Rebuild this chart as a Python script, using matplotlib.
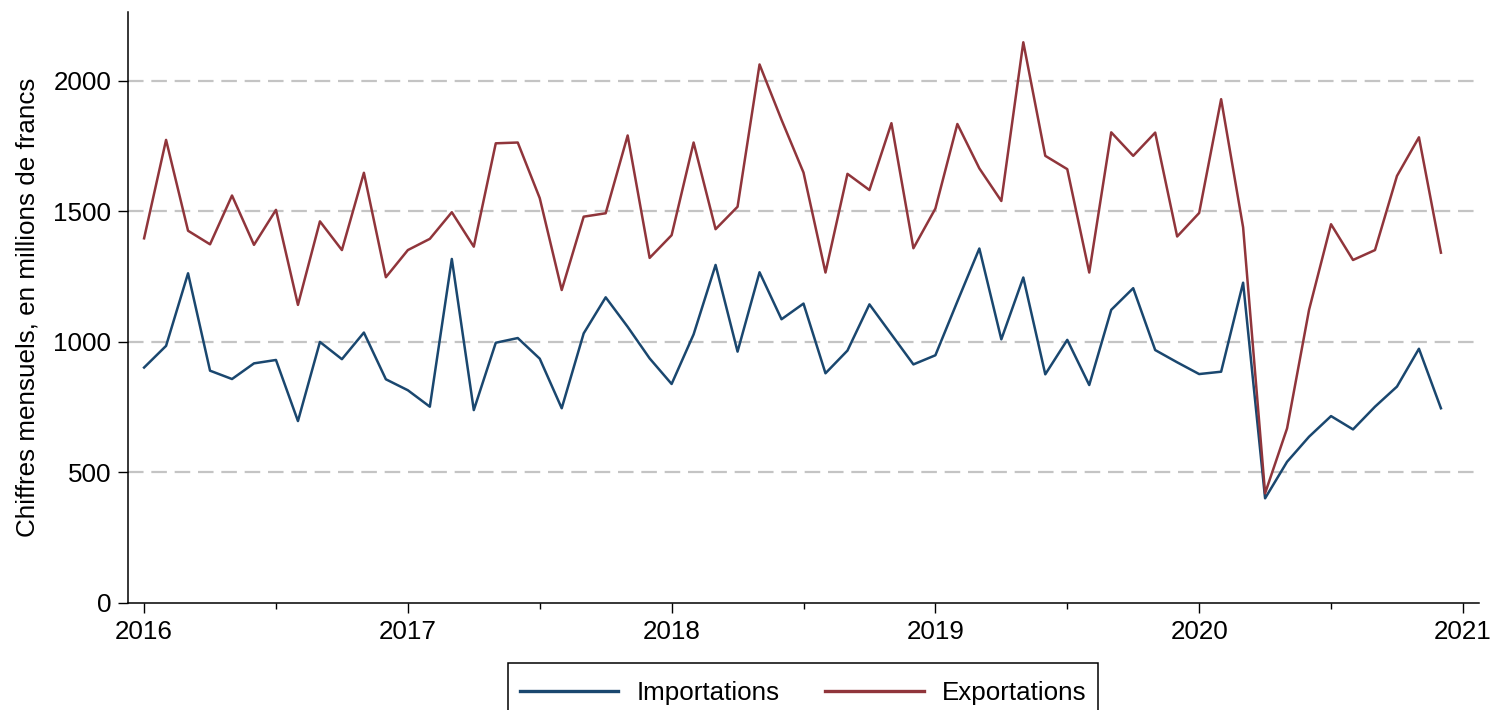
import matplotlib
matplotlib.use("Agg")
import matplotlib.pyplot as plt
from matplotlib.patches import Rectangle
import numpy as np

# monthly data, Jan 2016 - Dec 2020 (millions de francs)
importations = [902, 985, 1263, 890, 858, 918, 931, 697, 1000, 934, 1036, 857,
                815, 752, 1318, 739, 997, 1015, 936, 746, 1033, 1171, 1058, 937,
                839, 1029, 1295, 963, 1267, 1087, 1147, 880, 967, 1144, 1029, 914,
                949, 1155, 1358, 1010, 1247, 876, 1008, 835, 1123, 1206, 969, 922,
                877, 886, 1227, 401, 541, 637, 716, 665, 752, 829, 974, 746]
exportations = [1397, 1774, 1426, 1374, 1561, 1372, 1506, 1142, 1462, 1352, 1648, 1248,
                1352, 1395, 1497, 1365, 1761, 1764, 1551, 1199, 1480, 1493, 1791, 1322,
                1409, 1764, 1432, 1518, 2063, 1851, 1649, 1266, 1644, 1582, 1838, 1359,
                1511, 1835, 1665, 1540, 2148, 1713, 1662, 1266, 1803, 1713, 1802, 1404,
                1494, 1930, 1439, 420, 669, 1123, 1451, 1314, 1352, 1636, 1784, 1342]
start_year = 2016
year_ticks = [2016, 2017, 2018, 2019, 2020, 2021]
y_ticks = [0, 500, 1000, 1500, 2000]

x = start_year + np.arange(len(importations)) / 12.0

plt.rcParams['font.family'] = ['Liberation Sans', 'DejaVu Sans']
fs = 18.7

fig = plt.figure(figsize=(14.99, 7.10), dpi=100)
ax = fig.add_axes([128 / 1499, 107 / 710, 1351 / 1499, 591 / 710])

for yv in y_ticks[1:]:
    ax.axhline(yv, color='#c4c4c4', lw=1.6, dashes=(7, 3.5), zorder=1)

ax.plot(x, importations, color='#1a476f', lw=1.8, label='Importations', zorder=3)
ax.plot(x, exportations, color='#90353b', lw=1.8, label='Exportations', zorder=3)

ax.set_xlim(2015.939, 2021.061)
ax.set_ylim(0, 2264)
ax.set_xticks(year_ticks)
ax.set_xticks([y + 0.5 for y in year_ticks[:-1]], minor=True)
ax.set_yticks(y_ticks)
ax.tick_params(axis='both', which='major', direction='out', length=7, width=1,
               labelsize=fs, pad=5, color='black')
ax.tick_params(axis='x', which='minor', direction='out', length=4.5, width=1)
ax.set_ylabel("Chiffres mensuels, en millions de francs", fontsize=fs, labelpad=10)

for s in ['top', 'right']:
    ax.spines[s].set_visible(False)
for s in ['left', 'bottom']:
    ax.spines[s].set_linewidth(1.1)
    ax.spines[s].set_color('black')

# legend (box runs past the bottom edge, as in the original export)
leg = fig.legend(loc='upper center', bbox_to_anchor=(803 / 1499, 1 - 664 / 710),
                 ncol=2, fontsize=fs, frameon=False,
                 handlelength=3.8, handletextpad=0.7, columnspacing=1.75,
                 borderpad=0.15)
for line in leg.get_lines():
    line.set_linewidth(2.4)
fig.patches.append(Rectangle((508 / 1499, -0.05), 590 / 1499, 47 / 710 + 0.05,
                             transform=fig.transFigure, fill=False,
                             edgecolor='black', lw=1.1))

fig.savefig("out.png", dpi=100)
